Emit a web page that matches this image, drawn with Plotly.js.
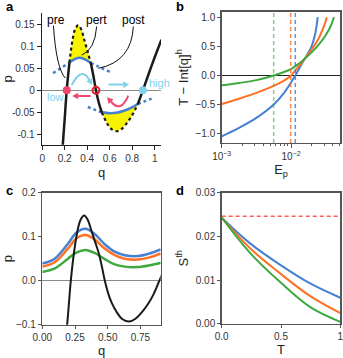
<!DOCTYPE html>
<html><head><meta charset="utf-8">
<script src="https://cdn.plot.ly/plotly-3.0.1.min.js"></script>
<style>html,body{margin:0;padding:0;background:#fff}#chart{width:343px;height:358px}</style>
</head><body><div id="chart"></div>
<script>
// ---------- Panel a data ----------
const blackQ = [0.180,0.200,0.218,0.242,0.268,0.292,0.320,0.348,0.375,0.405,0.432,0.455,0.478,0.505,0.530,0.570,0.610,0.663,0.710,0.760,0.808,0.850,0.895,0.950,1.000,1.060];
const blackP = [-0.135,-0.065,0.000,0.063,0.112,0.138,0.148,0.138,0.114,0.087,0.062,0.033,0.000,-0.030,-0.050,-0.072,-0.087,-0.093,-0.087,-0.072,-0.053,-0.031,0.000,0.040,0.075,0.115];
const upperQ = [0.096,0.170,0.242,0.290,0.335,0.385,0.432,0.500,0.600];
const upperP = [0.039,0.051,0.063,0.071,0.074,0.070,0.062,0.054,0.042];
const lowerQ = [0.405,0.465,0.530,0.600,0.660,0.720,0.780,0.850,0.920,0.990];
const lowerP = [-0.038,-0.044,-0.050,-0.052,-0.051,-0.047,-0.041,-0.031,-0.024,-0.017];
const upperCross = [0.242, 0.432];
const lowerCross = [0.530, 0.850];
const fixedQ = [0.218, 0.478, 0.895];
const aXTicks = [0,0.2,0.4,0.6,0.8,1];
const aXText = ['0','0.2','0.4','0.6','0.8','1'];
const aYTicks = [-0.1,-0.05,0,0.05,0.1,0.15];
const aYText = ['-0.1','-0.05','0','0.05','0.1','0.15'];

// ---------- Panel b data ----------
const bBlueE = [0.001,0.001778,0.003162,0.005623,0.007943,0.01,0.01153,0.01349,0.01585,0.01778,0.01995,0.02239,0.02427];
const bBlueY = [-1.045,-0.90,-0.73,-0.50,-0.30,-0.12,0.0,0.145,0.29,0.39,0.51,0.72,1.0];
const bOrangeE = [0.001,0.001778,0.003162,0.005623,0.007943,0.01,0.01259,0.01585,0.01995,0.02512,0.02884,0.03162,0.03273];
const bOrangeY = [-0.49,-0.40,-0.30,-0.18,-0.09,0.0,0.14,0.29,0.45,0.64,0.80,0.93,1.0];
const bGreenE = [0.001,0.001778,0.003162,0.005623,0.007943,0.01,0.01259,0.01585,0.01995,0.02512,0.03162,0.03715,0.04169];
const bGreenY = [-0.17,-0.13,-0.08,0.0,0.06,0.11,0.19,0.29,0.40,0.53,0.69,0.84,1.0];
const crossE = [0.01153, 0.0099, 0.00562]; // blue, orange, green
const bXTicks = [0.001, 0.01];
const bXText = ['10<sup>\u22123</sup>','10<sup>\u22122</sup>'];

// ---------- Panel c data ----------
const cQ = [0.00,0.095,0.196,0.26,0.33,0.40,0.477,0.553,0.63,0.73,0.82,0.905];
const cBlue = [0.039,0.050,0.084,0.109,0.118,0.106,0.083,0.066,0.058,0.056,0.062,0.071];
const cOrange = [0.032,0.042,0.073,0.096,0.104,0.094,0.073,0.058,0.050,0.048,0.053,0.062];
const cGreen = [0.020,0.028,0.050,0.064,0.070,0.063,0.049,0.037,0.032,0.031,0.035,0.041];

// ---------- Panel d data ----------
const dT = [0, 0.25, 0.5, 0.75, 1];
const dBlue = [0.0243,0.0182,0.0134,0.0092,0.0060];
const dOrange = [0.0243,0.0170,0.0114,0.0063,0.0025];
const dGreen = [0.0243,0.0159,0.0094,0.0038,0.0005];
const sMax = 0.0246;
const dXText = ['0.0','0.5','1'];

// ---------- styles ----------
const BLUE = '#4680d0', ORANGE = '#ff7022', GREEN = '#3ea93e', BLACK = '#1a1a1a';
const CYAN = '#7ed2ea', PINK = '#f0466e', RED = '#e0202a', YELLOW = '#f7f200';
const FONT = 'Liberation Sans, Arial, Helvetica, sans-serif';

const A_XDOM = [0.123,0.4694], A_YDOM = [0.5958,0.9637], A_XR = [0,1.056], A_YR = [-0.1236,0.1757];
const SX = (A_XDOM[1]-A_XDOM[0])*343/(A_XR[1]-A_XR[0]);
const SY = (A_YDOM[1]-A_YDOM[0])*358/(A_YR[1]-A_YR[0]);

function seg(xs, ys, lo, hi) {
  const x = [], y = [];
  for (let i = 0; i < xs.length; i++) {
    if (xs[i] >= lo - 1e-9 && xs[i] <= hi + 1e-9) { x.push(xs[i]); y.push(ys[i]); }
  }
  return {x, y};
}
function line(d, color, width, dash, ax, extra) {
  return Object.assign({type:'scatter', mode:'lines', x:d.x, y:d.y, xaxis:ax[0], yaxis:ax[1],
    line:{color, width, dash:dash||'solid', shape:'spline'}, hoverinfo:'skip', showlegend:false}, extra||{});
}
// arrowhead (panel a) with its base at (bx,by), pointing along pixel direction (dx,dy)
function head(bx, by, dx, dy, color) {
  const L = 6, W = 3.3, n = Math.hypot(dx, dy), ux = dx/n, uy = dy/n;
  const tx = bx + ux*L/SX, ty = by + uy*L/SY;
  const p1x = bx - uy*W/SX, p1y = by + ux*W/SY, p2x = bx + uy*W/SX, p2y = by - ux*W/SY;
  return {type:'path', xref:'x', yref:'y', path:`M ${tx},${ty} L ${p1x},${p1y} L ${p2x},${p2y} Z`,
    fillcolor:color, line:{width:0}};
}
const A = ['x','y'], B = ['x2','y2'], C = ['x3','y3'], D = ['x4','y4'];
const traces = [];

// yellow fills (invisible edges)
const bluUp = seg(upperQ, upperP, upperCross[0], upperCross[1]);
const blkUp = seg(blackQ, blackP, upperCross[0], upperCross[1]);
const bluLo = seg(lowerQ, lowerP, lowerCross[0], lowerCross[1]);
const blkLo = seg(blackQ, blackP, lowerCross[0], lowerCross[1]);
traces.push(line(bluUp, 'rgba(0,0,0,0)', 0, null, A));
traces.push(line(blkUp, 'rgba(0,0,0,0)', 0, null, A, {fill:'tonexty', fillcolor:YELLOW}));
traces.push(line(bluLo, 'rgba(0,0,0,0)', 0, null, A));
traces.push(line(blkLo, 'rgba(0,0,0,0)', 0, null, A, {fill:'tonexty', fillcolor:YELLOW}));

// blue nullclines
traces.push(line(seg(upperQ, upperP, -1, upperCross[0]), BLUE, 2.5, 'dot', A));
traces.push(line(seg(upperQ, upperP, upperCross[1], 2), BLUE, 2.5, 'dot', A));
traces.push(line(bluUp, BLUE, 2.5, 'solid', A));
traces.push(line(seg(lowerQ, lowerP, -1, lowerCross[0]), BLUE, 2.5, 'dot', A));
traces.push(line(seg(lowerQ, lowerP, lowerCross[1], 2), BLUE, 2.5, 'dot', A));
traces.push(line(bluLo, BLUE, 2.5, 'solid', A));

// black curve
traces.push(line(seg(blackQ, blackP, -1, upperCross[0]), BLACK, 2.5, 'solid', A));
traces.push(line(blkUp, BLACK, 2.2, 'dot', A));
traces.push(line(seg(blackQ, blackP, upperCross[1], lowerCross[0]), BLACK, 2.5, 'solid', A));
traces.push(line(blkLo, BLACK, 2.2, 'dot', A));
traces.push(line(seg(blackQ, blackP, lowerCross[1], 2), BLACK, 2.5, 'solid', A));

// fixed points
traces.push({type:'scatter', mode:'markers', x:[fixedQ[0], fixedQ[2]], y:[0,0], xaxis:'x', yaxis:'y', hoverinfo:'skip', showlegend:false,
  marker:{size:8, color:[PINK, CYAN], line:{width:0}}, cliponaxis:false});
traces.push({type:'scatter', mode:'markers', x:[fixedQ[1]], y:[0], xaxis:'x', yaxis:'y', hoverinfo:'skip', showlegend:false,
  marker:{size:7, symbol:'circle-open', color:RED, line:{color:RED, width:2}}, cliponaxis:false});

// panel b
traces.push(line({x:bBlueE, y:bBlueY}, BLUE, 2, 'solid', B));
traces.push(line({x:bOrangeE, y:bOrangeY}, ORANGE, 2, 'solid', B));
traces.push(line({x:bGreenE, y:bGreenY}, GREEN, 2, 'solid', B));
const bYRange = [-1.16, 1.09];
[BLUE, ORANGE, GREEN].forEach((c, i) => {
  traces.push({type:'scatter', mode:'lines', x:[crossE[i], crossE[i]], y:bYRange, xaxis:'x2', yaxis:'y2',
    line:{color:c, width:1.5, dash:'4px,3px'}, opacity:i === 2 ? 0.6 : 0.85, hoverinfo:'skip', showlegend:false});
});

// panel c
traces.push(line({x:cQ, y:cBlue}, BLUE, 2.5, 'solid', C));
traces.push(line({x:cQ, y:cOrange}, ORANGE, 2.5, 'solid', C));
traces.push(line({x:cQ, y:cGreen}, GREEN, 2.5, 'solid', C));
traces.push(line({x:blackQ, y:blackP}, BLACK, 2, 'solid', C));

// panel d
traces.push({type:'scatter', mode:'lines', x:[dT[0], dT[dT.length-1]], y:[sMax, sMax], xaxis:'x4', yaxis:'y4',
  line:{color:'#ff5a5a', width:1.5, dash:'4px,3px'}, hoverinfo:'skip', showlegend:false});
traces.push(line({x:dT, y:dBlue}, BLUE, 2, 'solid', D));
traces.push(line({x:dT, y:dOrange}, ORANGE, 2, 'solid', D));
traces.push(line({x:dT, y:dGreen}, GREEN, 2, 'solid', D));

const tickFont = {family:FONT, size:10, color:'#333'};
const titleFont = {family:FONT, size:13, color:'#222'};
const frame = {showline:true, linecolor:'#555', linewidth:1.5, mirror:true, ticks:'outside', ticklen:3, tickwidth:1, tickcolor:'#555',
  showgrid:false, zeroline:false, tickfont:tickFont, ticklabeloverflow:'allow'};

const minorB = [];
[0.001, 0.01].forEach(d => { for (let k = 2; k <= 9; k++) { if (d*k < 0.052) minorB.push(d*k); } });

const layout = {
  width:343, height:358, margin:{l:0,r:0,t:0,b:0}, paper_bgcolor:'#fff', plot_bgcolor:'rgba(0,0,0,0)',
  showlegend:false, font:{family:FONT},
  xaxis:{domain:A_XDOM, range:A_XR, anchor:'y', showline:true, linecolor:'#222', linewidth:1.5,
    ticks:'outside', ticklen:4, tickcolor:'#222', tickvals:aXTicks, ticktext:aXText, showgrid:false, zeroline:false,
    tickfont:tickFont, ticklabeloverflow:'allow', title:{text:'q', font:titleFont, standoff:4}},
  yaxis:{domain:A_YDOM, range:A_YR, anchor:'x', showline:true, linecolor:'#222', linewidth:1.5,
    ticks:'outside', ticklen:4, tickcolor:'#222', tickvals:aYTicks, ticktext:aYText, showgrid:false, ticklabeloverflow:'allow',
    zeroline:true, zerolinecolor:'#8a8a8a', zerolinewidth:1.5, tickfont:tickFont, title:{text:'p', font:titleFont, standoff:8}},
  xaxis2:Object.assign({}, frame, {domain:[0.6464,0.9921], anchor:'y2', type:'log', range:[-3,-1.289],
    tickvals:bXTicks, ticktext:bXText, ticklen:4,
    minor:{tickvals:minorB, ticks:'outside', ticklen:2, tickcolor:'#555', showgrid:false},
    title:{text:'E<sub>p</sub>', font:titleFont, standoff:2}}),
  yaxis2:Object.assign({}, frame, {domain:[0.6006,0.9665], anchor:'x2', range:bYRange, tick0:0, dtick:0.5, tickformat:'.1f',
    zeroline:true, zerolinecolor:'#222', zerolinewidth:1.2, title:{text:'T \u2212 Int[q]<sup>h</sup>', font:titleFont, standoff:4}}),
  xaxis3:Object.assign({}, frame, {domain:[0.1233,0.4685], anchor:'y3', range:[0,0.905], tick0:0, dtick:0.25, tickformat:'.2f',
    title:{text:'q', font:titleFont, standoff:2}}),
  yaxis3:Object.assign({}, frame, {domain:[0.0930,0.4617], anchor:'x3', range:[-0.1,0.2], tick0:0, dtick:0.1, tickformat:'.1f',
    zeroline:true, zerolinecolor:'#8a8a8a', zerolinewidth:1.5, title:{text:'p', font:titleFont, standoff:8}}),
  xaxis4:Object.assign({}, frame, {domain:[0.6464,0.9921], anchor:'y4', range:[0,1], tickvals:[0,0.5,1], ticktext:dXText,
    title:{text:'T', font:titleFont, standoff:2}}),
  yaxis4:Object.assign({}, frame, {domain:[0.0950,0.4617], anchor:'x4', range:[0,0.03], tick0:0, dtick:0.01, tickformat:'.2f',
    title:{text:'S<sup>th</sup>', font:titleFont, standoff:4}}),
  shapes:[
    {type:'path', xref:'x', yref:'y', path:'M 0.100,0.147 Q 0.125,0.050 0.205,0.028', line:{color:'#111', width:1}},
    {type:'path', xref:'x', yref:'y', path:'M 0.484,0.145 Q 0.469,0.092 0.351,0.080', line:{color:'#111', width:1}},
    {type:'path', xref:'x', yref:'y', path:'M 0.810,0.145 Q 0.795,0.065 0.499,0.050', line:{color:'#111', width:1}},
    // straight arrows
    {type:'line', xref:'x', yref:'y', x0:0.59, y0:0.013, x1:0.72, y1:0.013, line:{color:CYAN, width:2}},
    head(0.72, 0.013, 1, 0, CYAN),
    {type:'line', xref:'x', yref:'y', x0:0.43, y0:-0.013, x1:0.32, y1:-0.013, line:{color:PINK, width:2}},
    head(0.32, -0.013, -1, 0, PINK),
    // curved arrows
    {type:'path', xref:'x', yref:'y', path:'M 0.262,0.012 Q 0.350,0.055 0.418,0.024', line:{color:CYAN, width:2}},
    head(0.418, 0.024, (0.418-0.350)*SX, (0.024-0.055)*SY, CYAN),
    {type:'path', xref:'x', yref:'y', path:'M 0.765,-0.012 Q 0.700,-0.052 0.612,-0.026', line:{color:PINK, width:2}},
    head(0.612, -0.026, (0.612-0.700)*SX, (-0.026+0.052)*SY, PINK)
  ],
  annotations:[
    {xref:'paper', yref:'paper', x:4/343, y:1-7/358, text:'<b>a</b>', showarrow:false, xanchor:'left', yanchor:'middle', font:{family:FONT, size:13, color:'#000'}},
    {xref:'paper', yref:'paper', x:174/343, y:1-7/358, text:'<b>b</b>', showarrow:false, xanchor:'left', yanchor:'middle', font:{family:FONT, size:13, color:'#000'}},
    {xref:'paper', yref:'paper', x:4/343, y:1-190/358, text:'<b>c</b>', showarrow:false, xanchor:'left', yanchor:'middle', font:{family:FONT, size:13, color:'#000'}},
    {xref:'paper', yref:'paper', x:174/343, y:1-190/358, text:'<b>d</b>', showarrow:false, xanchor:'left', yanchor:'middle', font:{family:FONT, size:13, color:'#000'}},
    {xref:'x', yref:'y', x:0.12, y:0.160, text:'pre', showarrow:false, font:{family:FONT, size:12, color:'#000'}},
    {xref:'x', yref:'y', x:0.48, y:0.160, text:'pert', showarrow:false, font:{family:FONT, size:12, color:'#000'}},
    {xref:'x', yref:'y', x:0.81, y:0.160, text:'post', showarrow:false, font:{family:FONT, size:12, color:'#000'}},
    {xref:'x', yref:'y', x:0.12, y:-0.016, text:'low', showarrow:false, font:{family:FONT, size:11, color:CYAN}},
    {xref:'x', yref:'y', x:0.935, y:0.016, xanchor:'left', text:'high', showarrow:false, font:{family:FONT, size:11, color:CYAN}}
  ]
};
Plotly.newPlot('chart', traces, layout, {staticPlot:true, displayModeBar:false});
</script></body></html>
